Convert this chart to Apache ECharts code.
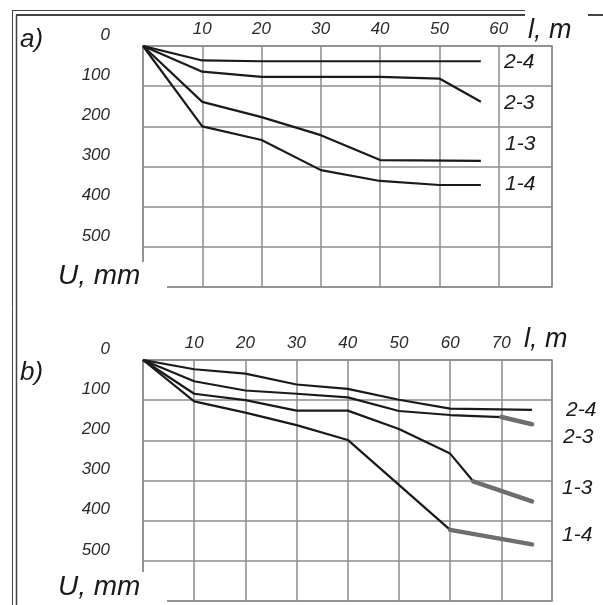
<!DOCTYPE html>
<html>
<head>
<meta charset="utf-8">
<script src="https://cdn.jsdelivr.net/npm/echarts@6/dist/echarts.min.js"></script>
<style>
  html, body { margin: 0; padding: 0; background: #fff; }
  #main { width: 603px; height: 605px; }
</style>
</head>
<body>
<div id="main"></div>
<script>
// panel a) : l (m) vs U (mm)
var a24L = [0, 10, 20, 40, 57],          a24U = [0, 36, 38, 38, 38];
var a23L = [0, 10, 20, 40, 50, 57],      a23U = [0, 64, 77, 77, 81, 139];
var a13L = [0, 10, 20, 30, 40, 57],      a13U = [0, 139, 177, 222, 284, 286];
var a14L = [0, 10, 20, 30, 40, 50, 57],  a14U = [0, 200, 234, 309, 336, 346, 346];

// panel b)
var b24L = [0, 10, 20, 30, 40, 50, 60, 76], b24U = [0, 23, 34, 61, 72, 99, 121, 124];
var b23L = [0, 10, 20, 30, 40, 50, 60, 70], b23U = [0, 53, 76, 84, 93, 127, 137, 142];
var b13L = [0, 10, 20, 30, 40, 50, 60, 64.5], b13U = [0, 84, 100, 126, 126, 172, 233, 302];
var b14L = [0, 10, 20, 30, 40, 60],       b14U = [0, 103, 131, 162, 199, 423];
// grey extensions (panel b)
var b23ExtL = [70, 76],   b23ExtU = [142, 160];
var b13ExtL = [64.5, 76], b13ExtU = [302, 352];
var b14ExtL = [60, 76],   b14ExtU = [423, 459];

var curveNames = ['2-4', '2-3', '1-3', '1-4'];

function pairs(xs, ys) {
    var res = [];
    for (var i = 0; i < xs.length; i++) res.push([xs[i], ys[i]]);
    return res;
}

var gridColor = '#8c8c8c';
var font = 'Liberation Sans, Arial, sans-serif';

function xAxisOf(idx, max) {
    return {
        gridIndex: idx, type: 'value', position: 'top',
        min: 0, max: max, interval: 10,
        axisLine: {show: false}, axisTick: {show: false},
        axisLabel: {showMinLabel: false, showMaxLabel: false, margin: 8,
            fontStyle: 'italic', fontSize: 17, color: '#2a2a2a', fontFamily: font},
        splitLine: {show: true, lineStyle: {color: gridColor, width: 1.5}}
    };
}
function yAxisOf(idx) {
    return {
        gridIndex: idx, type: 'value', inverse: true,
        min: 0, max: 600, interval: 100,
        axisLine: {show: false}, axisTick: {show: false},
        axisLabel: {showMaxLabel: false, margin: 33, verticalAlign: 'bottom', lineHeight: 22,
            fontStyle: 'italic', fontSize: 17, color: '#2a2a2a', fontFamily: font},
        splitLine: {show: true, lineStyle: {color: gridColor, width: 1.5}}
    };
}
function curve(name, idx, xs, ys) {
    return {
        name: name, type: 'line', xAxisIndex: idx, yAxisIndex: idx,
        data: pairs(xs, ys), symbol: 'none', silent: true,
        lineStyle: {color: '#1a1a1a', width: 2.2}, z: 3
    };
}
function ext(idx, xs, ys) {
    return {
        type: 'line', xAxisIndex: idx, yAxisIndex: idx,
        data: pairs(xs, ys), symbol: 'none', silent: true,
        lineStyle: {color: '#6e6e6e', width: 4.5, cap: 'round'}, z: 4
    };
}
function txt(x, y, s, size, extra) {
    var st = {text: s, x: x, y: y, font: 'italic ' + size + 'px ' + font,
        fill: '#1a1a1a', verticalAlign: 'middle'};
    for (var k in extra) st[k] = extra[k];
    return {type: 'text', z: 100, style: st};
}
function line(x1, y1, x2, y2, w) {
    return {type: 'line', z: 90, shape: {x1: x1, y1: y1, x2: x2, y2: y2},
        style: {stroke: '#444', lineWidth: w}};
}
function blank(x, y, w, h) {
    return {type: 'rect', z: 95, shape: {x: x, y: y, width: w, height: h}, style: {fill: '#fff'}};
}

var dom = document.getElementById('main');
var myChart = echarts.init(dom);
var option = {
    animation: false,
    backgroundColor: '#fff',
    grid: [
        {left: 143, top: 46, width: 409, height: 241, show: true, borderColor: gridColor, borderWidth: 1.5},
        {left: 143, top: 360, width: 409, height: 241, show: true, borderColor: gridColor, borderWidth: 1.5}
    ],
    xAxis: [xAxisOf(0, 69), xAxisOf(1, 79.9)],
    yAxis: [yAxisOf(0), yAxisOf(1)],
    series: [
        curve(curveNames[0], 0, a24L, a24U),
        curve(curveNames[1], 0, a23L, a23U),
        curve(curveNames[2], 0, a13L, a13U),
        curve(curveNames[3], 0, a14L, a14U),
        curve(curveNames[0], 1, b24L, b24U),
        curve(curveNames[1], 1, b23L, b23U),
        curve(curveNames[2], 1, b13L, b13U),
        curve(curveNames[3], 1, b14L, b14U),
        ext(1, b23ExtL, b23ExtU),
        ext(1, b13ExtL, b13ExtU),
        ext(1, b14ExtL, b14ExtU)
    ],
    graphic: [
        // page frame
        line(12, 10.5, 525, 10.5, 1),
        line(16, 15, 525, 15, 2),
        line(588, 15, 603, 15, 2),
        line(12.5, 10, 12.5, 605, 1),
        line(16.5, 15, 16.5, 605, 1.5),
        // cut-off caption line above
        txt(515, -13, 'deformation of the base along the length (Fig. 6).', 28,
            {align: 'right', font: 'italic 28px Liberation Serif, serif', fill: '#333'}),
        // corner gaps
        blank(136, 262, 31, 32),
        blank(136, 572, 31, 33),
        txt(20, 40, 'a)', 26),
        txt(20, 373, 'b)', 26),
        txt(58, 276, 'U, mm', 28),
        txt(58, 587, 'U, mm', 28),
        txt(528, 30, 'l, m', 27),
        txt(524, 339, 'l, m', 27),
        txt(504, 62, '2-4', 21),
        txt(504, 103, '2-3', 21),
        txt(505, 144, '1-3', 21),
        txt(505, 184, '1-4', 21),
        txt(566, 410, '2-4', 21),
        txt(563, 437, '2-3', 21),
        txt(562, 488, '1-3', 21),
        txt(562, 535, '1-4', 21)
    ]
};
if (option && typeof option === "object") {
    myChart.setOption(option, true);
}
</script>
</body>
</html>
